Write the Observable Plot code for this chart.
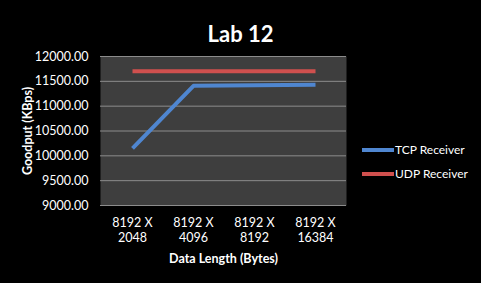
<!DOCTYPE html>
<html>
<head>
<meta charset="utf-8">
<script src="https://cdn.jsdelivr.net/npm/d3@7"></script>
<script src="https://cdn.jsdelivr.net/npm/@observablehq/plot@0.6"></script>
<style>
  html, body { margin: 0; padding: 0; background: #000; }
  #chart { width: 481px; height: 283px; overflow: hidden; }
</style>
</head>
<body>
<div id="chart"></div>
<script>
const categories = ["8192 X 2048", "8192 X 4096", "8192 X 8192", "8192 X 16384"];
const tcpValues = [10150, 11410, 11420, 11430];
const udpValues = [11705, 11705, 11705, 11705];
const yTicks = [9000, 9500, 10000, 10500, 11000, 11500, 12000];
const seriesNames = ["TCP Receiver", "UDP Receiver"];
const seriesColors = ["#4f86d0", "#d0504e"];

const data = [
  ...categories.map((c, i) => ({cat: c, value: tcpValues[i], series: seriesNames[0]})),
  ...categories.map((c, i) => ({cat: c, value: udpValues[i], series: seriesNames[1]}))
];

const font = "Lato, 'Open Sans', sans-serif";

const plot = Plot.plot({
  width: 481,
  height: 283,
  marginLeft: 100,
  marginRight: 135,
  marginTop: 56,
  marginBottom: 78,
  style: {background: "#000", color: "#fff", fontFamily: font, fontSize: "12px"},
  x: {type: "point", domain: categories, padding: 0.5},
  y: {domain: [9000, 12000]},
  color: {domain: seriesNames, range: seriesColors},
  marks: [
    Plot.frame({fill: "url(#dots)", stroke: null}),
    Plot.gridY(yTicks, {stroke: "#8c8c8c", strokeOpacity: 1, strokeWidth: 1}),
    Plot.axisY(yTicks, {tickSize: 0, tickPadding: 12, tickFormat: d => d.toFixed(2), label: null, fill: "#fff", fontSize: 12.5}),
    Plot.axisX({tickSize: 0, tickPadding: 10, tickFormat: d => d.replace(" X ", " X\n"), lineHeight: 1.25, label: null, fill: "#fff", fontSize: 12.5}),
    Plot.line(data, {x: "cat", y: "value", z: "series", stroke: "series", strokeWidth: 4, strokeLinecap: "butt"}),
    Plot.text(["Lab 12"], {frameAnchor: "top", dx: 17, dy: -30, fill: "#fff", fontWeight: "bold", fontSize: 22}),
    Plot.text(["Goodput (KBps)"], {frameAnchor: "left", textAnchor: "middle", lineAnchor: "middle", dx: -73, dy: 0, rotate: -90, fill: "#fff", fontWeight: "bold", fontSize: 12.5}),
    Plot.text(["Data Length (Bytes)"], {frameAnchor: "bottom", lineAnchor: "middle", dy: 53, fill: "#fff", fontWeight: "bold", fontSize: 12.5})
  ]
});

const svg = d3.select(plot);
const defs = svg.insert("defs", ":first-child");
const pat = defs.append("pattern").attr("id", "dots").attr("width", 2).attr("height", 2).attr("patternUnits", "userSpaceOnUse");
pat.append("rect").attr("width", 2).attr("height", 2).attr("fill", "#2f2f2f");
pat.append("rect").attr("width", 1).attr("height", 1).attr("fill", "#6a6a6a");

const legend = svg.append("g").attr("font-family", font).attr("font-size", 12).attr("fill", "#fff").attr("text-anchor", "start");
seriesNames.forEach((name, i) => {
  const y = 150 + i * 24;
  legend.append("line").attr("x1", 362).attr("x2", 394).attr("y1", y).attr("y2", y)
    .attr("stroke", seriesColors[i]).attr("stroke-width", 4);
  legend.append("text").attr("x", 395).attr("y", y).attr("dy", "0.35em").text(name);
});

document.getElementById("chart").appendChild(plot);
</script>
</body>
</html>
